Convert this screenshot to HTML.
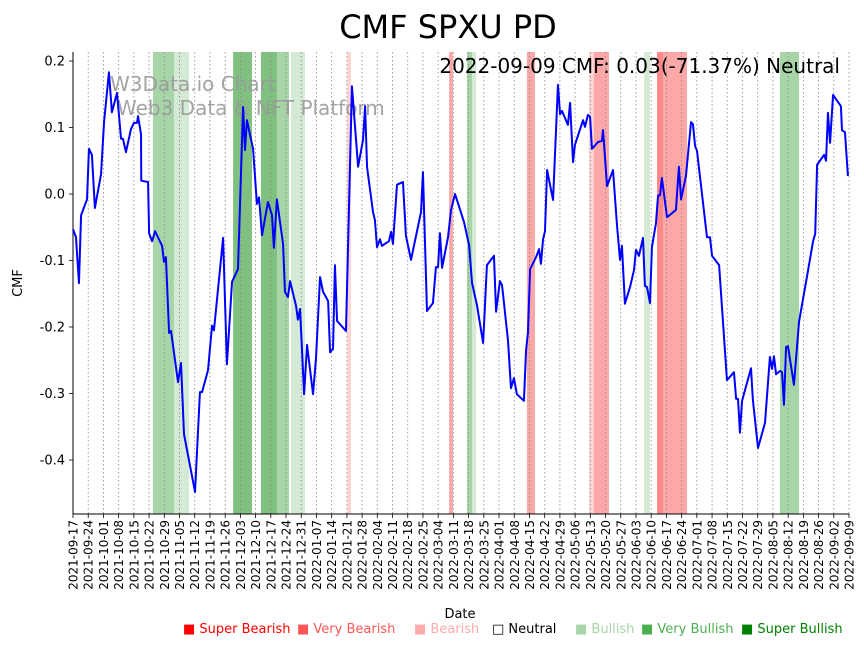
<!DOCTYPE html>
<html><head><meta charset="utf-8"><style>
body{margin:0;background:#fff;font-family:"Liberation Sans","DejaVu Sans",sans-serif}
svg text{font-family:"DejaVu Sans","Liberation Sans",sans-serif}
</style></head><body>
<svg id="c" width="864" height="646" xmlns="http://www.w3.org/2000/svg"></svg>
<script>
const tickLabels = ["2021-09-17","2021-09-24","2021-10-01","2021-10-08","2021-10-15","2021-10-22","2021-10-29","2021-11-05","2021-11-12","2021-11-19","2021-11-26","2021-12-03","2021-12-10","2021-12-17","2021-12-24","2021-12-31","2022-01-07","2022-01-14","2022-01-21","2022-01-28","2022-02-04","2022-02-11","2022-02-18","2022-02-25","2022-03-04","2022-03-11","2022-03-18","2022-03-25","2022-04-01","2022-04-08","2022-04-15","2022-04-22","2022-04-29","2022-05-06","2022-05-13","2022-05-20","2022-05-27","2022-06-03","2022-06-10","2022-06-17","2022-06-24","2022-07-01","2022-07-08","2022-07-15","2022-07-22","2022-07-29","2022-08-05","2022-08-12","2022-08-19","2022-08-26","2022-09-02","2022-09-09"];
const yTicks = [0.2,0.1,0.0,-0.1,-0.2,-0.3,-0.4];
const days = [0,1.4,2.8,3.8,6.6,7.5,8.9,10.3,13.2,14.6,16.9,18.3,20.7,22.6,23.5,24.9,27.3,28.7,30.1,30.6,32,32.1,35.3,35.8,37.2,38.6,41.9,42.8,43.7,45.2,46.1,49.4,50.8,52.2,57.4,59.7,60.7,63.5,65.4,66.3,70.6,72.4,74.8,77.6,80,80.9,81.8,84.7,86.5,87.5,88.9,91.7,93.6,94.5,95.9,98.8,99.7,101.1,102.1,104.9,105.8,106.8,108.7,110.1,112.9,114.3,116.2,117.6,120,120.9,122.3,123.2,124.2,128.4,131.2,134.1,136.4,137.4,138.3,141.1,142,143,144.4,145.3,148.6,149.6,150.5,152.4,155.2,156.6,159,163.7,164.6,166.5,169.3,170.7,171.7,172.6,173.6,176.4,177.8,179.7,181.1,183.9,186.3,187.7,190,192.9,194.7,198,199,200.8,201.8,204.6,206,207.4,208.8,212.1,213.1,214,215,217.8,219.2,220.1,221.1,222,223,225.8,228.1,229.1,230,232.8,233.8,235.2,236.1,239.9,240.8,242.2,243.2,244.1,246.9,248.8,249.3,251.2,254,255.9,257.3,258.2,259.6,262,263.9,264.8,266.2,268.1,269,270,271.4,272.3,274.2,275.2,276.1,277,279.4,283.6,285,286,288.3,290.7,291.6,292.6,293.5,298.2,299.6,300.6,303.9,307.6,310.9,311.9,312.8,313.7,314.7,318.9,319.8,322.2,325.5,327.8,328.8,329.7,330.7,332.6,333.5,334.4,335.4,336.3,339.1,341.5,345.3,348.1,349.1,350,353.3,354.2,355.1,356.1,357.5,361.2,361.7,363.1,364.5];
const cmf = [-0.053,-0.065,-0.134,-0.032,-0.008,0.068,0.059,-0.021,0.030,0.108,0.183,0.123,0.152,0.083,0.083,0.063,0.098,0.107,0.107,0.117,0.090,0.020,0.018,-0.059,-0.071,-0.056,-0.078,-0.102,-0.095,-0.209,-0.206,-0.283,-0.254,-0.361,-0.448,-0.298,-0.298,-0.265,-0.198,-0.205,-0.066,-0.256,-0.132,-0.113,0.131,0.066,0.111,0.068,-0.015,-0.005,-0.062,-0.012,-0.032,-0.081,-0.008,-0.075,-0.147,-0.155,-0.131,-0.168,-0.189,-0.173,-0.301,-0.227,-0.301,-0.247,-0.125,-0.147,-0.161,-0.238,-0.233,-0.107,-0.191,-0.206,0.162,0.041,0.081,0.132,0.041,-0.027,-0.039,-0.080,-0.068,-0.078,-0.071,-0.057,-0.075,0.014,0.018,-0.063,-0.099,-0.027,0.033,-0.176,-0.164,-0.110,-0.110,-0.059,-0.111,-0.065,-0.024,0.000,-0.014,-0.042,-0.077,-0.134,-0.167,-0.224,-0.107,-0.093,-0.177,-0.131,-0.137,-0.220,-0.292,-0.277,-0.301,-0.311,-0.235,-0.208,-0.113,-0.095,-0.083,-0.105,-0.068,-0.056,0.036,-0.009,0.164,0.120,0.125,0.104,0.137,0.048,0.074,0.111,0.101,0.119,0.116,0.068,0.078,0.080,0.096,0.012,0.036,-0.048,-0.099,-0.078,-0.165,-0.140,-0.114,-0.084,-0.093,-0.066,-0.138,-0.140,-0.164,-0.080,-0.044,-0.002,-0.002,0.024,-0.035,-0.024,0.041,-0.008,0.027,0.108,0.105,0.072,0.065,-0.065,-0.065,-0.093,-0.107,-0.280,-0.268,-0.308,-0.308,-0.359,-0.311,-0.262,-0.310,-0.382,-0.344,-0.245,-0.263,-0.244,-0.271,-0.266,-0.268,-0.317,-0.230,-0.229,-0.287,-0.192,-0.123,-0.071,-0.060,0.044,0.059,0.050,0.122,0.077,0.149,0.132,0.096,0.093,0.027];
const bandStart = [37.6,47.5,75.3,88.4,96,102.5,128.9,176.9,185.3,187.7,213.5,242.7,245,268.6,274.7,277.5,332.5];
const bandEnd   = [47.5,54.6,84.2,96,101.6,109.1,130.8,178.7,187.7,189.6,217.3,245,252.1,271.4,277.5,288.8,341.5];
const bandLevel = [2,1,3,3,2,1,-1,-2,2,1,-2,-1,-2,1,-3,-2,2];
const legendNames = ["Super Bearish","Very Bearish","Bearish","Neutral","Bullish","Very Bullish","Super Bullish"];

const NS="http://www.w3.org/2000/svg", svg=document.getElementById('c');
const L=73,R=849,T=52,B=514;
const X=d=>L+(d/365)*(R-L);
const Y=v=>194-v*665;
function el(t,a,p){const e=document.createElementNS(NS,t);for(const k in a)e.setAttribute(k,a[k]);(p||svg).appendChild(e);return e;}
const bandColor={"3":"#80c080","2":"#a8d5a8","1":"#d4ead4","-1":"#fdd5d5","-2":"#fca8a8","-3":"#ff8888"};
const bands=el('g',{});


bandStart.forEach((s,i)=>{const r=el('rect',{x:X(s),y:T,width:X(bandEnd[i])-X(s),height:B-T,fill:bandColor[bandLevel[i]]},bands);

});
tickLabels.forEach((t,i)=>{const d=i*365/(tickLabels.length-1),x=X(d);
const g=el('line',{x1:x,x2:x,y1:T,y2:B,stroke:'#888','stroke-width':0.8,'stroke-dasharray':'1.5,2.5'});


el('line',{x1:x,x2:x,y1:B,y2:B+4,stroke:'#000','stroke-width':0.8});
const tx=el('text',{x:0,y:0,'font-size':12,'text-anchor':'end',transform:`translate(${x+4.5},${B+6}) rotate(-90)`});tx.textContent=t;

});
yTicks.forEach(v=>{const y=Y(v);el('line',{x1:L-4,x2:L,y1:y,y2:y,stroke:'#000','stroke-width':0.8});
const tx=el('text',{x:L-8,y:y+4.5,'font-size':13,'text-anchor':'end'});tx.textContent=v.toFixed(1);

});
el('line',{x1:L,x2:L,y1:T,y2:B,stroke:'#000','stroke-width':1});
el('line',{x1:L,x2:R,y1:B,y2:B,stroke:'#000','stroke-width':1});
const wm=el('text',{x:110,y:91,'font-size':20,fill:'#999','fill-opacity':0.9});wm.textContent="W3Data.io Chart";


const wm2=el('text',{x:117,y:115,'font-size':20,fill:'#999','fill-opacity':0.9});wm2.textContent="Web3 Data & NFT Platform";


const line=el('polyline',{points:days.map((d,i)=>X(d)+','+Y(cmf[i])).join(' '),fill:'none',stroke:'#0000ff','stroke-width':2,'stroke-linejoin':'round'});


const ann=el('text',{x:840,y:73,'font-size':20,'text-anchor':'end'});ann.textContent="2022-09-09 CMF: 0.03(-71.37%) Neutral";


const ti=el('text',{x:448,y:38,'font-size':32,'text-anchor':'middle'});ti.textContent="CMF SPXU PD";


const xt=el('text',{x:460,y:618,'font-size':13,'text-anchor':'middle'});xt.textContent="Date";


const yt=el('text',{x:0,y:0,'font-size':13,'text-anchor':'middle',transform:'translate(22,283) rotate(-90)'});yt.textContent="CMF";


const legCol=["#ff0000","#ff5555","#ffaaaa","#000000","#a8d5a8","#4caf50","#008000"];
const legX=[183,297,414,492,575,641,741];
legendNames.forEach((n,i)=>{const t=el('text',{x:legX[i],y:633,'font-size':13,fill:legCol[i]});t.textContent=(i==3?"□ ":"■ ")+n;

});
</script>
</body></html>
